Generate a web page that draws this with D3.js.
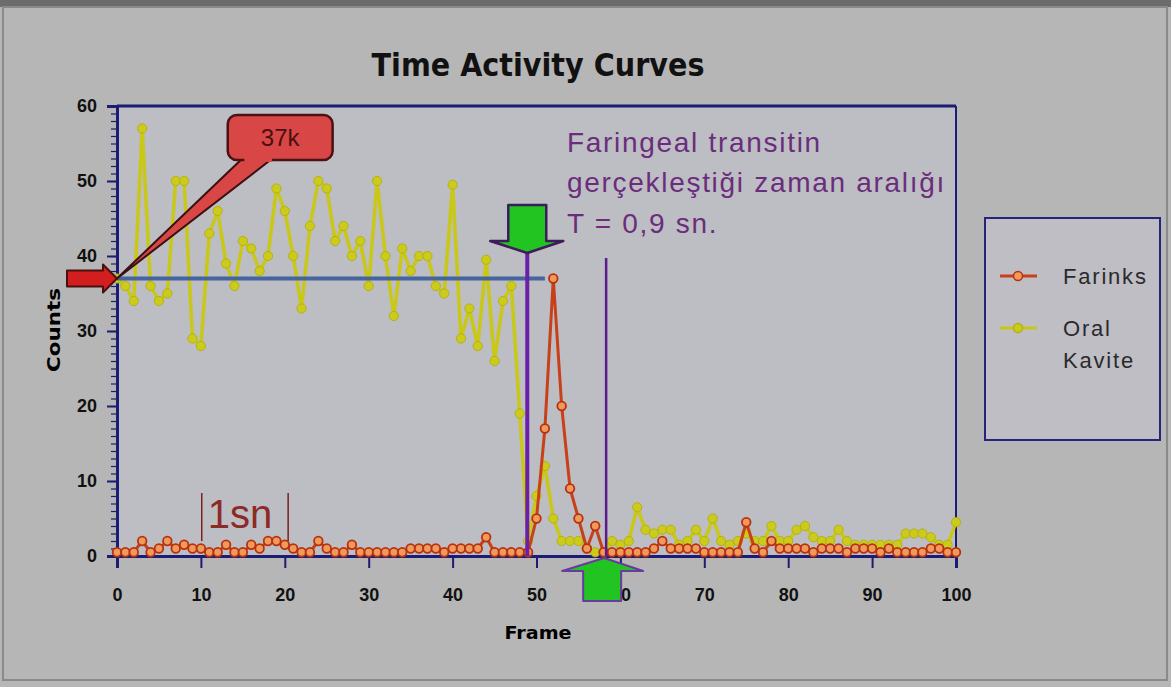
<!DOCTYPE html>
<html>
<head>
<meta charset="utf-8">
<script src="https://cdn.jsdelivr.net/npm/d3@7"></script>
<style>
body { margin: 0; background: #b6b6b6; }
svg { display: block; }
</style>
</head>
<body>
<svg id="chart" width="1171" height="687"></svg>
<script>
// degerler grafikten okunarak tahmin edildi (frame 0..100)
var farinks = [
	0.5, 0.5, 0.5, 2, 0.5, 1, 2, 1, 1.5, 1, 1, 0.5, 0.5, 1.5, 0.5, 0.5, 1.5, 1, 2, 2,
	1.5, 1, 0.5, 0.5, 2, 1, 0.5, 0.5, 1.5, 0.5, 0.5, 0.5, 0.5, 0.5, 0.5, 1, 1, 1, 1, 0.5,
	1, 1, 1, 1, 2.5, 0.5, 0.5, 0.5, 0.5, 0.5, 5, 17, 37, 20, 9, 5, 1, 4, 0.5, 0.5,
	0.5, 0.5, 0.5, 0.5, 1, 2, 1, 1, 1, 1, 0.5, 0.5, 0.5, 0.5, 0.5, 4.5, 1, 0.5, 2, 1,
	1, 1, 1, 0.5, 1, 1, 1, 0.5, 1, 1, 1, 0.5, 1, 0.5, 0.5, 0.5, 0.5, 1, 1, 0.5,
	0.5
];
var oralKavite = [
	37, 36, 34, 57, 36, 34, 35, 50, 50, 29, 28, 43, 46, 39, 36, 42, 41, 38, 40, 49,
	46, 40, 33, 44, 50, 49, 42, 44, 40, 42, 36, 50, 40, 32, 41, 38, 40, 40, 36, 35,
	49.5, 29, 33, 28, 39.5, 26, 34, 36, 19, 2, 8, 12, 5, 2, 2, 2, 1, 0.5, 0.5, 2,
	1.5, 2, 6.5, 3.5, 3, 3.5, 3.5, 1.5, 2, 3.5, 2, 5, 2, 1.5, 2, 3, 2, 2, 4, 2,
	2, 3.5, 4, 2.5, 2, 2, 3.5, 2, 1.5, 1.5, 1.5, 1.5, 1.5, 1.5, 3, 3, 3, 2.5, 1.5, 1.5,
	4.5
];
var xTicks = [0, 10, 20, 30, 40, 50, 60, 70, 80, 90, 100];
var yTicks = [0, 10, 20, 30, 40, 50, 60];
var seriesNames = ['Farinks', 'Oral Kavite'];
var baselineCount = 37;          // 37k
var transitFrames = [48.9, 58.3]; // faringeal transit baslangic / bitis
var secondFrames = [10.1, 20.4];  // 1 sn araligi

var svg = d3.select('#chart');

// cerceve
svg.append('rect').attr('x', 0).attr('y', 0).attr('width', 1171).attr('height', 687).attr('fill', '#b6b6b6');
svg.append('rect').attr('x', 0).attr('y', 0).attr('width', 1171).attr('height', 7).attr('fill', '#6c6c6c');
svg.append('rect').attr('x', 3).attr('y', 7).attr('width', 1164).attr('height', 673)
	.attr('fill', 'none').attr('stroke', '#8a8a8a').attr('stroke-width', 2);

var margin = {top: 106, right: 215, bottom: 131, left: 117},
	width = 1171 - margin.left - margin.right,
	height = 687 - margin.top - margin.bottom;

var x = d3.scaleLinear().domain([0, 100]).range([0, width]);
var y = d3.scaleLinear().domain([0, 60]).range([height, 0]);

var g = svg.append('g').attr('transform', 'translate(' + margin.left + ',' + margin.top + ')');

g.append('rect').attr('width', width).attr('height', height).attr('fill', '#bdbdc4');

// baslik
svg.append('text').attr('x', 538).attr('y', 76)
	.attr('text-anchor', 'middle')
	.attr('font-family', 'DejaVu Sans, sans-serif').attr('font-weight', 'bold').attr('font-size', 32)
	.attr('textLength', 333).attr('lengthAdjust', 'spacingAndGlyphs')
	.attr('fill', '#111').text('Time Activity Curves');

// ust ve sag kenar
g.append('line').attr('x1', 0).attr('x2', width).attr('y1', 0).attr('y2', 0)
	.attr('stroke', '#1c1c74').attr('stroke-width', 3);
g.append('line').attr('x1', width).attr('x2', width).attr('y1', 0).attr('y2', height)
	.attr('stroke', '#1c1c74').attr('stroke-width', 2);

// eksenler
var yMinor = g.append('g').call(d3.axisLeft(y).tickValues(d3.range(0, 61, 1)).tickSize(6).tickFormat(''));
var yAxis = g.append('g').call(d3.axisLeft(y).tickValues(yTicks).tickSize(10).tickPadding(10));
var xAxis = g.append('g').attr('transform', 'translate(0,' + height + ')')
	.call(d3.axisBottom(x).tickValues(xTicks).tickSize(12).tickPadding(20));

[yMinor, yAxis, xAxis].forEach(function(ax) {
	ax.selectAll('path').attr('stroke', '#1c1c74').attr('stroke-width', 3);
	ax.selectAll('line').attr('stroke', '#1c1c74').attr('stroke-width', 2);
	ax.selectAll('text').attr('font-family', 'Liberation Sans, Arial, sans-serif')
		.attr('font-weight', 'bold').attr('font-size', 18).attr('fill', '#111');
});
yMinor.selectAll('line').attr('stroke-width', 1.2);

svg.append('text').attr('transform', 'translate(60,330) rotate(-90)')
	.attr('text-anchor', 'middle').attr('font-family', 'DejaVu Sans, sans-serif')
	.attr('font-weight', 'bold').attr('font-size', 17)
	.attr('textLength', 84).attr('lengthAdjust', 'spacingAndGlyphs').text('Counts');
svg.append('text').attr('x', 538).attr('y', 639)
	.attr('text-anchor', 'middle').attr('font-family', 'DejaVu Sans, sans-serif')
	.attr('font-weight', 'bold').attr('font-size', 17)
	.attr('textLength', 67).attr('lengthAdjust', 'spacingAndGlyphs').text('Frame');

// seriler
var line = d3.line().x(function(d, i) { return x(i); }).y(function(d) { return y(d); });

g.append('path').datum(oralKavite).attr('d', line)
	.attr('fill', 'none').attr('stroke', '#c9c816').attr('stroke-width', 3.5).attr('stroke-linejoin', 'round');
g.selectAll('.oral-pt').data(oralKavite).enter().append('circle')
	.attr('class', 'oral-pt')
	.attr('cx', function(d, i) { return x(i); })
	.attr('cy', function(d) { return y(d); })
	.attr('r', 4.6).attr('fill', '#cccb1c').attr('stroke', '#b4b212').attr('stroke-width', 1);

// 37k taban cizgisi
g.append('line').attr('x1', x(0)).attr('x2', x(51)).attr('y1', y(baselineCount)).attr('y2', y(baselineCount))
	.attr('stroke', '#46649e').attr('stroke-width', 4);

g.append('path').datum(farinks).attr('d', line)
	.attr('fill', 'none').attr('stroke', '#c8401a').attr('stroke-width', 3).attr('stroke-linejoin', 'round');
g.selectAll('.farinks-pt').data(farinks).enter().append('circle')
	.attr('class', 'farinks-pt')
	.attr('cx', function(d, i) { return x(i); })
	.attr('cy', function(d) { return y(d); })
	.attr('r', 4.3).attr('fill', '#ef9a5a').attr('stroke', '#b8300e').attr('stroke-width', 1.8);

// faringeal transit isaretleri
var t0 = x(transitFrames[0]), t1 = x(transitFrames[1]);
g.append('line').attr('x1', t0).attr('x2', t0).attr('y1', 146).attr('y2', height)
	.attr('stroke', '#6a1fa8').attr('stroke-width', 4);
g.append('line').attr('x1', t1).attr('x2', t1).attr('y1', 152).attr('y2', height)
	.attr('stroke', '#5a1a8c').attr('stroke-width', 2.5);

// ust yesil ok
g.append('path')
	.attr('d', 'M' + (t0 - 19) + ',99 H' + (t0 + 19) + ' V135 H' + (t0 + 36) + ' L' + t0 + ',147 L' + (t0 - 37) + ',135 H' + (t0 - 19) + ' Z')
	.attr('fill', '#21c421').attr('stroke', '#3c1c5a').attr('stroke-width', 2.5).attr('stroke-linejoin', 'round');
// alt yesil ok
var tb = t1 - 4;
g.append('path')
	.attr('d', 'M' + (tb - 19) + ',' + (height + 45) + ' V' + (height + 15) + ' H' + (tb - 40) + ' L' + (tb + 2) + ',' + (height + 2) + ' L' + (tb + 41) + ',' + (height + 15) + ' H' + (tb + 19) + ' V' + (height + 45) + ' Z')
	.attr('fill', '#21c421').attr('stroke', '#6a3aa0').attr('stroke-width', 2).attr('stroke-linejoin', 'round');

// aciklama
var note = svg.append('text').attr('font-family', 'Liberation Sans, Arial, sans-serif')
	.attr('font-size', 28).attr('letter-spacing', 1.7).attr('fill', '#6b2d7b');
note.append('tspan').attr('x', 567).attr('y', 152).text('Faringeal transitin');
note.append('tspan').attr('x', 567).attr('y', 192).text('gerçekleştiği zaman aralığı');
note.append('tspan').attr('x', 567).attr('y', 233).text('T = 0,9 sn.');

// 1 sn
secondFrames.forEach(function(f) {
	g.append('line').attr('x1', x(f)).attr('x2', x(f)).attr('y1', y(8.4)).attr('y2', y(2))
		.attr('stroke', '#7a2020').attr('stroke-width', 1.5);
});
g.append('text').attr('x', x(secondFrames[0]) + 6).attr('y', y(3.7))
	.attr('font-family', 'Liberation Sans, Arial, sans-serif').attr('font-size', 40)
	.attr('fill', '#8c2a26').text('1sn');

// 37k sol ok
var by = y(baselineCount);
g.append('path')
	.attr('d', 'M-50,' + (by - 8) + ' H-14 V' + (by - 14) + ' L0,' + by + ' L-14,' + (by + 14) + ' V' + (by + 8) + ' H-50 Z')
	.attr('fill', '#d21e1e').attr('stroke', '#4a1010').attr('stroke-width', 2).attr('stroke-linejoin', 'round');

// 37k balon
var bx0 = x(13.2), bx1 = x(25.7), byTop = y(58.8), byBot = y(52.8);
g.append('path')
	.attr('d', 'M' + x(15) + ',' + (byBot - 2) + ' L' + x(0) + ',' + by + ' L' + x(18.6) + ',' + (byBot - 2) + ' Z')
	.attr('fill', '#d84646').attr('stroke', '#3a1010').attr('stroke-width', 2).attr('stroke-linejoin', 'round');
g.append('rect').attr('x', bx0).attr('y', byTop).attr('width', bx1 - bx0).attr('height', byBot - byTop)
	.attr('rx', 9).attr('fill', '#d84646').attr('stroke', '#4a1212').attr('stroke-width', 2.5);
g.append('path')
	.attr('d', 'M' + (x(15) + 1.5) + ',' + (byBot - 3) + ' L' + (x(15) + 1.5) + ',' + (byBot + 2) + ' L' + (x(18.6) - 1) + ',' + (byBot + 2) + ' L' + (x(18.6) - 1) + ',' + (byBot - 3) + ' Z')
	.attr('fill', '#d84646');
g.append('text').attr('x', (bx0 + bx1) / 2).attr('y', byTop + 31)
	.attr('text-anchor', 'middle').attr('font-family', 'Liberation Sans, Arial, sans-serif')
	.attr('font-size', 24).attr('fill', '#4a1010').text('37k');

// lejant
var legend = svg.append('g').attr('transform', 'translate(985,218)');
legend.append('rect').attr('width', 175).attr('height', 222)
	.attr('fill', '#bebec4').attr('stroke', '#24247a').attr('stroke-width', 2);
var legendColors = [['#c8401a', '#ef9a5a', '#b8300e'], ['#c9c816', '#cccb1c', '#b4b212']];
var legendRows = [58, 110];
seriesNames.forEach(function(name, i) {
	var ly = legendRows[i];
	legend.append('line').attr('x1', 15).attr('x2', 52).attr('y1', ly).attr('y2', ly)
		.attr('stroke', legendColors[i][0]).attr('stroke-width', 3);
	legend.append('circle').attr('cx', 33).attr('cy', ly).attr('r', 4.5)
		.attr('fill', legendColors[i][1]).attr('stroke', legendColors[i][2]).attr('stroke-width', 1.5);
	var t = legend.append('text').attr('font-family', 'Liberation Sans, Arial, sans-serif')
		.attr('font-size', 22).attr('letter-spacing', 1.8).attr('fill', '#2a2a2a');
	name.split(' ').forEach(function(w, j) {
		t.append('tspan').attr('x', 78).attr('y', ly + 8 + j * 32).text(w);
	});
});
</script>
</body>
</html>
